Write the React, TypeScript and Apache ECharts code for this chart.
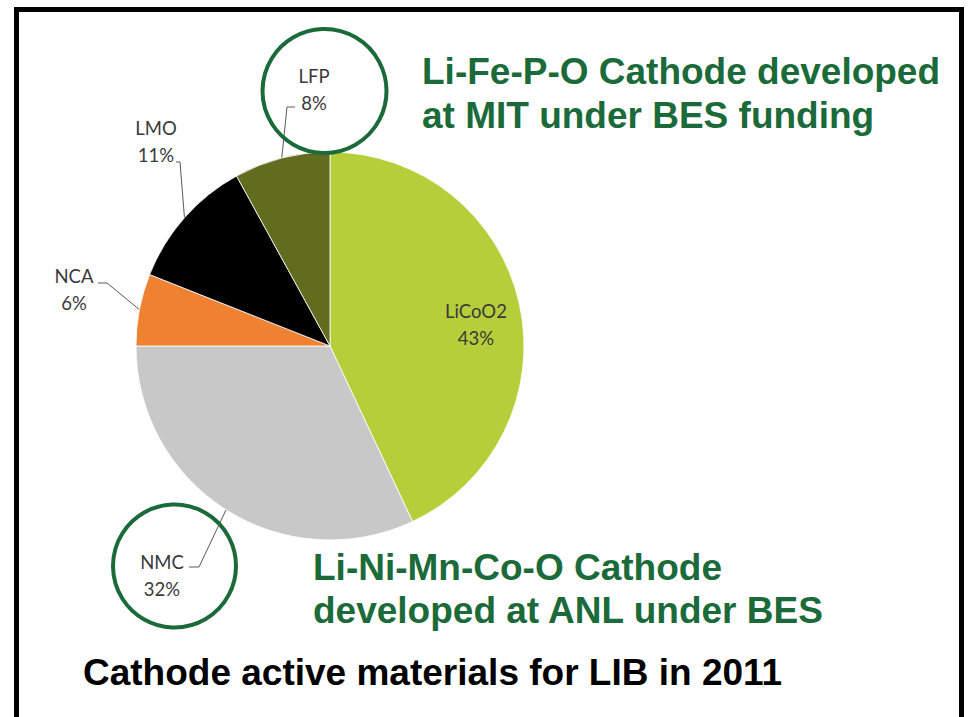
import React, { useEffect, useRef } from "react";
import * as echarts from "echarts";

// ---- data ----
const categories = ["LiCoO2", "NMC", "NCA", "LMO", "LFP"];
const shares = [43, 32, 6, 11, 8];
const sliceColors = ["#B7CE3B", "#C8C8C8", "#EE8230", "#000000", "#616C1F"];

const topNote = ["Li-Fe-P-O Cathode developed", "at MIT under BES funding"];
const bottomNote = ["Li-Ni-Mn-Co-O Cathode", "developed at ANL under BES"];
const caption = "Cathode active materials for LIB in 2011";

// ---- layout (label anchors and leader-line elbows, in px) ----
const LABEL_ANCHORS: number[][] = [
  [476, 324],
  [162, 575],
  [74, 289],
  [156, 141],
  [314, 89],
];
const LEADER_ELBOWS: (number[][] | null)[] = [
  null,
  [[199, 567], [189, 567]],
  [[107, 283], [98, 283]],
  [[180, 162], [176, 162]],
  [[287, 107], [295, 107]],
];

const GREEN = "#1B6A3A";

export default function App() {
  const ref = useRef<HTMLDivElement>(null);
  useEffect(() => {
    const chart = echarts.init(ref.current!, null, { renderer: "svg" });
    const data = categories.map((name, i) => ({
      name,
      value: shares[i],
      itemStyle: { color: sliceColors[i] },
      label: i === 0 ? { position: "inside" } : { position: "outside" },
      labelLine: { show: i !== 0 },
    }));
    const textStyleBase = {
      fontFamily: '"Liberation Sans", Arial, sans-serif',
      fontWeight: "bold",
      fontSize: 37,
    };
    const textEl = (t: string, x: number, y: number, fill: string) => ({
      type: "text",
      x,
      y,
      z: 10,
      style: { ...textStyleBase, text: t, fill, align: "left", verticalAlign: "middle" },
    });
    chart.setOption({
      animation: false,
      backgroundColor: "#ffffff",
      series: [
        {
          type: "pie",
          center: [330, 346],
          radius: 194,
          startAngle: 90,
          clockwise: true,
          avoidLabelOverlap: false,
          itemStyle: { borderColor: "#ffffff", borderWidth: 0.8 },
          label: {
            formatter: "{b}\n{d}%",
            fontFamily: "Lato, 'Open Sans', sans-serif",
            fontSize: 18.5,
            lineHeight: 27,
            color: "#3a3a3a",
            align: "center",
          },
          labelLine: {
            show: true,
            length: 20,
            length2: 10,
            lineStyle: { color: "#595959", width: 1 },
          },
          emphasis: { disabled: true },
          labelLayout: (params: any) => {
            const i = params.dataIndex;
            const a = LABEL_ANCHORS[i];
            const res: any = { x: a[0], y: a[1], align: "center", verticalAlign: "middle" };
            const el = LEADER_ELBOWS[i];
            if (el && params.labelLinePoints) {
              res.labelLinePoints = [params.labelLinePoints[0], el[0], el[1]];
            }
            return res;
          },
          data,
        },
      ],
      graphic: [
        {
          type: "rect",
          shape: { x: 16.5, y: 9.5, width: 945, height: 760 },
          style: { fill: "none", stroke: "#000", lineWidth: 5 },
          z: 20,
        },
        {
          type: "circle",
          shape: { cx: 324.5, cy: 91, r: 62 },
          style: { fill: "none", stroke: GREEN, lineWidth: 4 },
          z: 15,
        },
        {
          type: "circle",
          shape: { cx: 174.5, cy: 566, r: 61.5 },
          style: { fill: "none", stroke: GREEN, lineWidth: 4 },
          z: 15,
        },
        textEl(topNote[0], 422, 71.5, GREEN),
        textEl(topNote[1], 422, 115, GREEN),
        textEl(bottomNote[0], 313, 567.5, GREEN),
        textEl(bottomNote[1], 313, 610, GREEN),
        textEl(caption, 83, 672, "#000000"),
      ],
    });
    return () => chart.dispose();
  }, []);
  return (
    <div
      ref={ref}
      style={{ position: "fixed", left: 0, top: 0, width: 968, height: 717, background: "#fff" }}
    />
  );
}
